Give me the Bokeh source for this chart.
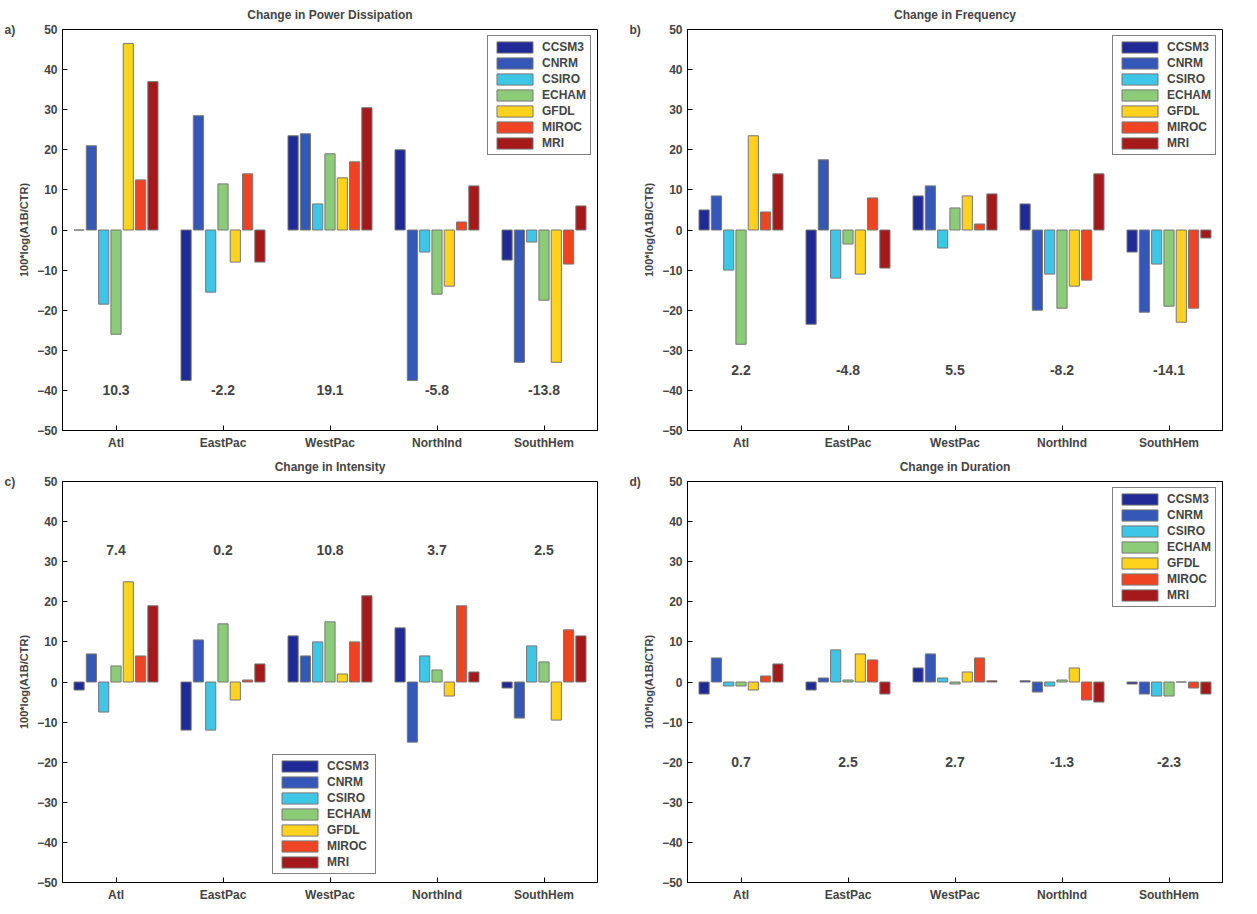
from bokeh.plotting import figure
from bokeh.layouts import gridplot
from bokeh.models import ColumnDataSource, FixedTicker, Label, Legend, LegendItem, Title
from bokeh.embed import file_html
from bokeh.resources import INLINE

regions = ["Atl", "EastPac", "WestPac", "NorthInd", "SouthHem"]
models = ["CCSM3", "CNRM", "CSIRO", "ECHAM", "GFDL", "MIROC", "MRI"]
colors = ["#1f2a96", "#3558b8", "#3ec6e6", "#8ccb78", "#ffd21e", "#ef4423", "#a5191b"]

power = [[0, 21, -18.5, -26, 46.5, 12.5, 37],
         [-37.5, 28.5, -15.5, 11.5, -8, 14, -8],
         [23.5, 24, 6.5, 19, 13, 17, 30.5],
         [20, -37.5, -5.5, -16, -14, 2, 11],
         [-7.5, -33, -3, -17.5, -33, -8.5, 6]]
freq = [[5, 8.5, -10, -28.5, 23.5, 4.5, 14],
        [-23.5, 17.5, -12, -3.5, -11, 8, -9.5],
        [8.5, 11, -4.5, 5.5, 8.5, 1.5, 9],
        [6.5, -20, -11, -19.5, -14, -12.5, 14],
        [-5.5, -20.5, -8.5, -19, -23, -19.5, -2]]
inten = [[-2, 7, -7.5, 4, 25, 6.5, 19],
         [-12, 10.5, -12, 14.5, -4.5, 0.5, 4.5],
         [11.5, 6.5, 10, 15, 2, 10, 21.5],
         [13.5, -15, 6.5, 3, -3.5, 19, 2.5],
         [-1.5, -9, 9, 5, -9.5, 13, 11.5]]
dur = [[-3, 6, -1, -1, -2, 1.5, 4.5],
       [-2, 1, 8, 0.5, 7, 5.5, -3],
       [3.5, 7, 1, -0.5, 2.5, 6, 0.3],
       [0.3, -2.5, -1, 0.5, 3.5, -4.5, -5],
       [-0.5, -3, -3.5, -3.5, 0, -1.5, -3]]

means_a = ["10.3", "-2.2", "19.1", "-5.8", "-13.8"]
means_b = ["2.2", "-4.8", "5.5", "-8.2", "-14.1"]
means_c = ["7.4", "0.2", "10.8", "3.7", "2.5"]
means_d = ["0.7", "2.5", "2.7", "-1.3", "-2.3"]

FONT = "Liberation Sans"

def panel(tag, title, data, means, mean_y, legend_loc):
    p = figure(width=625, height=452, x_range=(0.5, 5.5), y_range=(-50, 50),
               output_backend="svg", toolbar_location=None,
               min_border_left=62, min_border_right=28, min_border_top=4, min_border_bottom=18)
    p.title.text = title
    p.title.align = "center"
    p.title.text_font_size = "12px"
    p.title.text_font = FONT
    p.title.standoff = 11
    p.add_layout(Title(text=tag, align="left", offset=-58, text_font_size="12px",
                       text_font=FONT, text_font_style="bold", standoff=-14), "above")
    items = []
    for j, m in enumerate(models):
        xs = [i + 1 + (j - 3) * 0.115 for i in range(5)]
        tops = [data[i][j] for i in range(5)]
        src = ColumnDataSource(dict(x=xs, top=tops))
        r = p.vbar(x="x", top="top", bottom=0, width=0.095, source=src,
                   fill_color=colors[j], line_color="#777777", line_width=1)
        items.append(LegendItem(label=m, renderers=[r]))
    for i, t in enumerate(means):
        p.add_layout(Label(x=i + 1, y=mean_y, text=t, text_align="center",
                           text_baseline="middle", text_font_size="14px",
                           text_font_style="bold", text_font=FONT))
    leg = Legend(items=items, location=legend_loc, label_text_font_size="12px",
                 label_text_font=FONT, label_text_font_style="bold",
                 glyph_width=45, glyph_height=14,
                 label_height=14, spacing=2, padding=4, margin=6,
                 border_line_color="black", background_fill_alpha=1)
    p.add_layout(leg)
    p.xgrid.visible = False
    p.ygrid.visible = False
    p.outline_line_color = "black"
    p.xaxis.ticker = FixedTicker(ticks=[1, 2, 3, 4, 5])
    p.xaxis.major_label_overrides = {i + 1: r for i, r in enumerate(regions)}
    p.yaxis.ticker = FixedTicker(ticks=list(range(-50, 51, 10)))
    for ax in (p.xaxis, p.yaxis):
        ax.major_tick_in = 5
        ax.major_tick_out = 0
        ax.minor_tick_line_color = None
        ax.major_label_text_font_style = "bold"
        ax.major_label_text_font_size = "12px"
        ax.major_label_text_font = FONT
    p.yaxis.axis_label = "100*log(A1B/CTR)"
    p.yaxis.axis_label_text_font_size = "11px"
    p.yaxis.axis_label_text_font_style = "bold"
    p.yaxis.axis_label_standoff = 4
    return p

pa = panel("a)", "Change in Power Dissipation", power, means_a, -40, "top_right")
pb = panel("b)", "Change in Frequency", freq, means_b, -35, "top_right")
pc = panel("c)", "Change in Intensity", inten, means_c, 33, (210, 8))
pd = panel("d)", "Change in Duration", dur, means_d, -20, "top_right")

g = gridplot([[pa, pb], [pc, pd]], toolbar_location=None)
open("out.html", "w").write(file_html(g, INLINE))
